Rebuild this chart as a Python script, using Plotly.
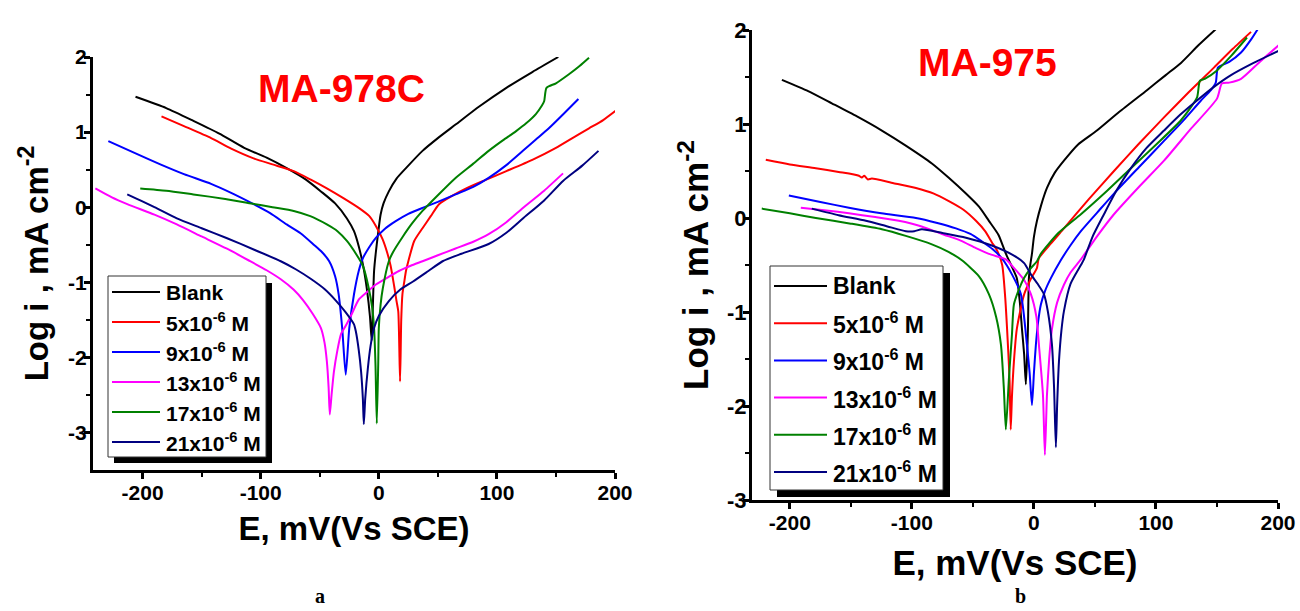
import plotly.graph_objects as go

W, H = 1300, 611

# ---------------- data: panel a (MA-978C) ----------------
a_blank_E = [-206, -180, -157, -135, -114, -95, -78, -62, -49, -37, -27, -21, -17, -13, -10, -7.5, -6, -5, -4, -2.5, -1, 1.5, 4, 8.5, 15, 23, 37, 50, 65, 85, 108, 130, 152]
a_blank_L = [1.47, 1.32, 1.15, 0.98, 0.79, 0.66, 0.52, 0.37, 0.21, 0.05, -0.15, -0.32, -0.52, -0.8, -1.1, -1.45, -1.78, -1.3, -0.85, -0.6, -0.4, -0.1, 0.05, 0.21, 0.38, 0.52, 0.75, 0.92, 1.1, 1.34, 1.59, 1.8, 2.0]

a_5_E = [-184, -165, -142, -125, -106, -90, -72, -58, -44, -30, -17, -8, -2.5, 3, 7, 10, 13, 15, 16.5, 18, 19, 20, 21.5, 23, 25, 30, 37, 44, 51, 62, 74, 90, 108, 130, 150, 165, 178, 190, 202]
a_5_L = [1.21, 1.08, 0.92, 0.78, 0.65, 0.57, 0.48, 0.37, 0.25, 0.12, -0.01, -0.12, -0.25, -0.42, -0.6, -0.78, -1.05, -1.25, -1.39, -2.32, -1.5, -1.16, -1.0, -0.85, -0.72, -0.45, -0.28, -0.12, 0.04, 0.15, 0.25, 0.36, 0.48, 0.63, 0.79, 0.93, 1.05, 1.16, 1.3]

a_9_E = [-229, -205, -185, -165, -142, -125, -106, -92, -78, -66, -55, -48, -42, -37, -34, -31, -28, -25, -21, -17, -13.5, -8, -2.5, 5, 14, 25, 37, 50, 65, 80, 93, 108, 122, 133, 144, 157, 169]
a_9_L = [0.88, 0.71, 0.57, 0.44, 0.31, 0.19, 0.04, -0.08, -0.23, -0.35, -0.5, -0.6, -0.72, -0.92, -1.16, -1.61, -2.23, -1.61, -1.16, -0.85, -0.68, -0.53, -0.41, -0.29, -0.19, -0.09, -0.01, 0.07, 0.17, 0.27, 0.39, 0.56, 0.75, 0.9, 1.05, 1.25, 1.44]

a_13_E = [-240, -226, -213, -190, -171, -150, -129, -110, -95, -83, -72, -64, -56, -49, -46, -44, -42.5, -41.5, -40, -38, -35, -32, -28, -24, -17, -10, -2.5, 8, 17, 27, 37, 50, 65, 80, 93, 108, 122, 140, 156]
a_13_L = [0.25, 0.13, 0.04, -0.1, -0.23, -0.39, -0.55, -0.71, -0.84, -0.96, -1.1, -1.24, -1.42, -1.61, -1.8, -2.05, -2.4, -2.76, -2.5, -2.19, -1.9, -1.69, -1.58, -1.46, -1.23, -1.13, -1.03, -0.93, -0.85, -0.78, -0.72, -0.64, -0.55, -0.46, -0.36, -0.2, -0.01, 0.22, 0.45]

a_17_E = [-202, -180, -157, -130, -108, -90, -72, -58, -44, -35, -27, -19, -13.5, -8.5, -5.5, -4, -2.8, -1.7, -0.5, 0, 1.5, 3.4, 8.5, 12, 20, 28, 37, 50, 65, 80, 93, 105, 116, 125, 133, 138, 140, 142, 150, 161, 170, 178]
a_17_L = [0.25, 0.22, 0.17, 0.11, 0.05, 0.0, -0.05, -0.12, -0.23, -0.32, -0.45, -0.63, -0.78, -1.08, -1.35, -1.61, -2.1, -2.88, -2.1, -1.61, -1.3, -1.08, -0.72, -0.6, -0.4, -0.22, -0.05, 0.16, 0.39, 0.58, 0.75, 0.89, 1.01, 1.12, 1.24, 1.35, 1.41, 1.59, 1.65, 1.77, 1.88, 1.99]

a_21_E = [-213, -190, -171, -150, -129, -105, -83, -70, -58, -46, -36, -28, -21, -19.5, -17, -15, -13.5, -12.7, -11.5, -9.3, -7, -4, 0, 8.5, 18, 29, 42, 54, 70, 93, 108, 122, 140, 156, 172, 186]
a_21_L = [0.17, 0.0, -0.15, -0.28, -0.41, -0.57, -0.72, -0.83, -0.95, -1.09, -1.25, -1.4, -1.56, -1.65, -1.9, -2.19, -2.55, -2.89, -2.55, -2.15, -1.85, -1.61, -1.45, -1.25, -1.1, -0.99, -0.85, -0.72, -0.62, -0.49, -0.34, -0.15, 0.09, 0.35, 0.55, 0.75]

# ---------------- data: panel b (MA-975) ----------------
b_blank_E = [-206.5, -185, -165.6, -145, -124.6, -105, -83.6, -70, -55.7, -45, -36.9, -29, -23, -18, -14, -11.5, -9.8, -8, -6.6, -5.5, -4.9, -4.1, -3, -1.6, 0, 2.5, 6, 10.7, 17, 24.6, 36, 51.6, 70, 92.6, 108, 120.5, 135, 150]
b_blank_L = [1.47, 1.35, 1.22, 1.08, 0.93, 0.77, 0.58, 0.43, 0.26, 0.12, -0.03, -0.18, -0.38, -0.52, -0.64, -0.9, -1.18, -1.45, -1.77, -1.45, -1.18, -0.64, -0.5, -0.38, -0.2, -0.03, 0.14, 0.32, 0.48, 0.61, 0.78, 0.93, 1.13, 1.36, 1.52, 1.65, 1.84, 2.02]

b_5_E = [-219.7, -200, -178.7, -160, -143.4, -141, -139, -136, -132.8, -115, -96.7, -82, -69.7, -58, -47.5, -40, -34.4, -30, -26, -23.5, -22, -20, -19, -18, -16.4, -14, -8.2, -3, 2.5, 4, 14, 24.6, 45, 65.6, 86, 106.6, 127, 147.5, 163, 177.9]
b_5_L = [0.62, 0.57, 0.53, 0.49, 0.45, 0.43, 0.45, 0.41, 0.42, 0.37, 0.32, 0.26, 0.18, 0.09, -0.03, -0.14, -0.26, -0.35, -0.5, -0.85, -1.18, -1.7, -2.25, -1.9, -1.53, -1.18, -0.82, -0.66, -0.53, -0.43, -0.27, -0.11, 0.2, 0.5, 0.79, 1.07, 1.34, 1.6, 1.8, 1.98]

b_9_E = [-200.8, -175, -151.6, -125, -96.7, -80, -63.9, -52, -42.6, -34, -26.2, -18, -10.7, -5.7, -3.5, -1.6, 0, 1.6, 3.5, 5.7, 9, 13.9, 22, 30, 38.5, 52, 65.6, 86, 106.6, 122, 136.9, 145, 149, 150.8, 160, 169.7, 178, 184.4]
b_9_L = [0.24, 0.17, 0.11, 0.05, 0.0, -0.05, -0.11, -0.17, -0.25, -0.33, -0.43, -0.6, -0.81, -1.35, -1.65, -1.99, -1.65, -1.35, -1.1, -0.92, -0.78, -0.64, -0.45, -0.29, -0.14, 0.06, 0.26, 0.54, 0.82, 1.03, 1.25, 1.36, 1.44, 1.6, 1.66, 1.76, 1.9, 2.03]

b_13_E = [-191, -170, -151.6, -130, -110.7, -92, -75.4, -60, -47.5, -35, -23, -16.4, -8, -2.5, 2, 4.1, 7.4, 9, 10.7, 12.5, 14.8, 19, 24.6, 30, 38.5, 52, 65.6, 86, 106.6, 128, 150, 154, 160, 169.7, 185, 200.8]
b_13_L = [0.11, 0.08, 0.05, 0.01, -0.03, -0.09, -0.17, -0.24, -0.32, -0.39, -0.44, -0.53, -0.66, -0.81, -1.05, -1.35, -1.88, -2.52, -1.88, -1.5, -1.18, -0.9, -0.71, -0.58, -0.44, -0.19, 0.04, 0.33, 0.61, 0.94, 1.27, 1.43, 1.44, 1.48, 1.66, 1.84]

b_17_E = [-223, -200, -178.7, -150, -124.6, -105, -83.6, -70, -59, -45, -36.9, -31, -27, -24.6, -23, -20.5, -18, -16.4, -12, -8.2, -3, 2.5, 5.7, 20, 38.5, 60, 79.5, 100, 120.5, 133.6, 136, 140, 150, 162, 174.6]
b_17_L = [0.1, 0.05, 0.0, -0.06, -0.12, -0.19, -0.28, -0.36, -0.45, -0.62, -0.81, -1.05, -1.35, -1.82, -2.25, -1.71, -1.24, -0.92, -0.75, -0.64, -0.54, -0.46, -0.38, -0.16, 0.04, 0.29, 0.53, 0.78, 1.04, 1.28, 1.46, 1.48, 1.57, 1.73, 1.92]

b_21_E = [-182, -160, -137.7, -120, -104.9, -98, -91.8, -75, -55.7, -35, -16.4, -8, -2.5, 3, 8.2, 11.5, 14.8, 16.5, 18, 19, 20.5, 22.5, 24.6, 30, 38.5, 41, 48, 57.4, 68, 79.5, 92, 106.6, 120, 133.6, 147, 161.5, 180, 200.8]
b_21_L = [0.1, 0.03, -0.03, -0.09, -0.14, -0.14, -0.12, -0.16, -0.21, -0.29, -0.4, -0.48, -0.6, -0.7, -0.81, -1.0, -1.35, -1.8, -2.44, -2.0, -1.53, -1.2, -0.99, -0.7, -0.5, -0.44, -0.2, 0.04, 0.3, 0.53, 0.74, 0.93, 1.1, 1.25, 1.39, 1.52, 1.65, 1.78]

series_names = ["Blank", "5x10<sup>-6</sup> M", "9x10<sup>-6</sup> M", "13x10<sup>-6</sup> M",
                "17x10<sup>-6</sup> M", "21x10<sup>-6</sup> M"]
series_colors = ["#000000", "#FF0000", "#0000FF", "#FF00FF", "#008000", "#000080"]

x_tickvals = [-200, -100, 0, 100, 200]
x_ticktext = ["-200", "-100", "0", "100", "200"]
x_minor = [-150, -50, 50, 150]
y_tickvals_a = [-3, -2, -1, 0, 1, 2]
y_ticktext_a = ["-3", "-2", "-1", "0", "1", "2"]
y_minor_a = [-2.5, -1.5, -0.5, 0.5, 1.5]
y_tickvals_b = [-3, -2, -1, 0, 1, 2]
y_ticktext_b = ["-3", "-2", "-1", "0", "1", "2"]
y_minor_b = [-2.5, -1.5, -0.5, 0.5, 1.5]

panel_a = [(a_blank_E, a_blank_L), (a_5_E, a_5_L), (a_9_E, a_9_L),
           (a_13_E, a_13_L), (a_17_E, a_17_L), (a_21_E, a_21_L)]
panel_b = [(b_blank_E, b_blank_L), (b_5_E, b_5_L), (b_9_E, b_9_L),
           (b_13_E, b_13_L), (b_17_E, b_17_L), (b_21_E, b_21_L)]

FONT = "Liberation Sans, Arial, Helvetica, sans-serif"
SERIF = "Liberation Serif, Times New Roman, serif"

fig = go.Figure()
for (E, L), name, col in zip(panel_a, series_names, series_colors):
    fig.add_trace(go.Scatter(x=E, y=L, mode="lines", name=name,
                             line=dict(color=col, width=2, shape="spline", smoothing=0.6),
                             xaxis="x", yaxis="y", showlegend=False))
for (E, L), name, col in zip(panel_b, series_names, series_colors):
    fig.add_trace(go.Scatter(x=E, y=L, mode="lines", name=name,
                             line=dict(color=col, width=2, shape="spline", smoothing=0.6),
                             xaxis="x2", yaxis="y2", showlegend=False))


def px_x(p):
    return p / W


def px_y(p):
    return 1 - p / H


def axis_common(tickvals, ticktext, minor_vals, tfs, standoff):
    return dict(
        tickmode="array", tickvals=tickvals, ticktext=ticktext,
        showline=True, linewidth=3, linecolor="black", mirror=False,
        ticks="outside", ticklen=6, tickwidth=2.5, tickcolor="black",
        ticklabelstandoff=standoff,
        minor=dict(tickmode="array", tickvals=minor_vals, ticks="outside", ticklen=4,
                   tickwidth=2, tickcolor="black"),
        showgrid=False, zeroline=False, automargin=False,
        tickfont=dict(family=FONT, size=tfs, color="black", weight="bold"),
    )


xa = axis_common(x_tickvals, x_ticktext, x_minor, 21, -4)
xa.update(domain=[px_x(93), px_x(615)], range=[-242, 200], anchor="y",
          title=dict(text="E, mV(Vs SCE)", standoff=14,
                     font=dict(family=FONT, size=33, color="black", weight="bold")))
ya = axis_common(y_tickvals_a, y_ticktext_a, y_minor_a, 21, -7)
ya.update(domain=[px_y(470), px_y(57)], range=[-3.5, 2], anchor="x",
          title=dict(text="Log i , mA cm<sup>-2</sup>", standoff=10,
                     font=dict(family=FONT, size=33, color="black", weight="bold")))
xb = axis_common(x_tickvals, x_ticktext, x_minor, 21, -4)
xb.update(domain=[px_x(752), px_x(1278)], range=[-231, 200], anchor="y2",
          title=dict(text="E, mV(Vs SCE)", standoff=18,
                     font=dict(family=FONT, size=35, color="black", weight="bold")))
yb = axis_common(y_tickvals_b, y_ticktext_b, y_minor_b, 22, -8)
yb.update(domain=[px_y(500), px_y(30)], range=[-3, 2], anchor="x2",
          title=dict(text="Log i , mA cm<sup>-2</sup>", standoff=8,
                     font=dict(family=FONT, size=35, color="black", weight="bold")))

shapes = []
annotations = []


def add_legend(box, shadow, x_line, x_text, y0, dy, fsize):
    shapes.append(dict(type="rect", xref="paper", yref="paper", layer="above",
                       x0=px_x(shadow[0]), x1=px_x(shadow[1]), y0=px_y(shadow[3]), y1=px_y(shadow[2]),
                       fillcolor="black", line=dict(width=0)))
    shapes.append(dict(type="rect", xref="paper", yref="paper", layer="above",
                       x0=px_x(box[0]), x1=px_x(box[1]), y0=px_y(box[3]), y1=px_y(box[2]),
                       fillcolor="white", line=dict(color="#333333", width=1)))
    for i, (name, col) in enumerate(zip(series_names, series_colors)):
        yy = y0 + dy * i
        shapes.append(dict(type="line", xref="paper", yref="paper", layer="above",
                           x0=px_x(x_line[0]), x1=px_x(x_line[1]), y0=px_y(yy), y1=px_y(yy),
                           line=dict(color=col, width=2)))
        annotations.append(dict(xref="paper", yref="paper", x=px_x(x_text), y=px_y(yy),
                                xanchor="left", yanchor="middle", showarrow=False, text=name,
                                font=dict(family=FONT, size=fsize, color="black", weight="bold")))


add_legend((108, 266, 276, 457), (114, 272, 283, 463), (112, 160), 164, 292, 30, 21)
add_legend((770, 943, 266, 490), (777, 950, 273, 497), (774, 827), 831, 286, 37.2, 23)

annotations.append(dict(xref="paper", yref="paper", x=px_x(341), y=px_y(89), xanchor="center",
                        yanchor="middle", showarrow=False, text="MA-978C",
                        font=dict(family=FONT, size=39, color="#FF0000", weight="bold")))
annotations.append(dict(xref="paper", yref="paper", x=px_x(987), y=px_y(62), xanchor="center",
                        yanchor="middle", showarrow=False, text="MA-975",
                        font=dict(family=FONT, size=39, color="#FF0000", weight="bold")))
annotations.append(dict(xref="paper", yref="paper", x=px_x(320), y=px_y(596), xanchor="center",
                        yanchor="middle", showarrow=False, text="a",
                        font=dict(family=SERIF, size=20, color="black", weight="bold")))
annotations.append(dict(xref="paper", yref="paper", x=px_x(1020), y=px_y(596), xanchor="center",
                        yanchor="middle", showarrow=False, text="b",
                        font=dict(family=SERIF, size=20, color="black", weight="bold")))

fig.update_layout(
    width=W, height=H, margin=dict(l=0, r=0, t=0, b=0),
    paper_bgcolor="white", plot_bgcolor="white",
    xaxis=xa, yaxis=ya, xaxis2=xb, yaxis2=yb,
    shapes=shapes, annotations=annotations, showlegend=False,
)

fig.write_html("out.html")
